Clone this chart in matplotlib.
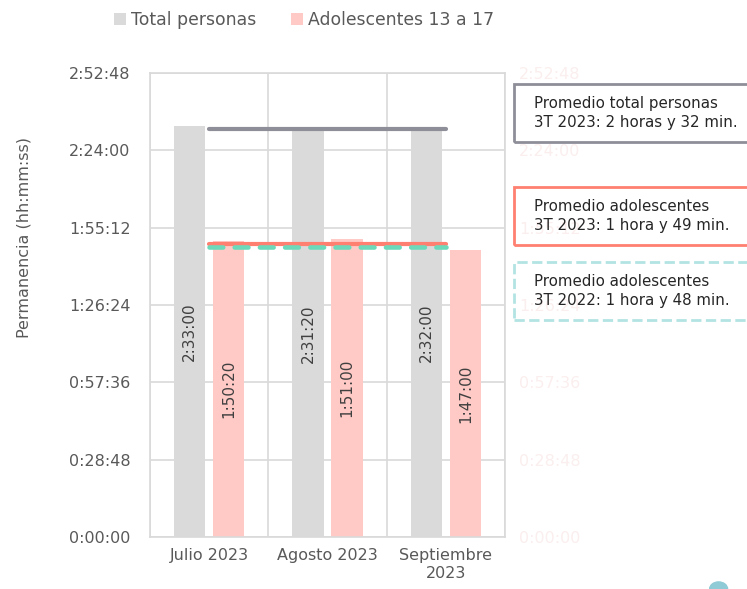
import matplotlib.pyplot as plt
from matplotlib.patches import Rectangle, Circle
import numpy as np

# data (seconds)
meses = ['Julio 2023', 'Agosto 2023', 'Septiembre\n2023']
total = [2*3600 + 33*60, 2*3600 + 31*60 + 20, 2*3600 + 32*60]
adolescentes = [1*3600 + 50*60 + 20, 1*3600 + 51*60, 1*3600 + 47*60]
prom_total_2023 = 2*3600 + 32*60
prom_adol_2023 = 1*3600 + 49*60
prom_adol_2022 = 1*3600 + 48*60
notas = ['Promedio total personas\n3T 2023: 2 horas y 32 min.',
         'Promedio adolescentes\n3T 2023: 1 hora y 49 min.',
         'Promedio adolescentes\n3T 2022: 1 hora y 48 min.']

plt.rcParams['font.family'] = ['DejaVu Sans']


def hms(s):
    s = int(round(s))
    return '%d:%02d:%02d' % (s // 3600, (s % 3600) // 60, s % 60)


gris = '#dadada'
rosa = '#ffc9c5'
txt = '#595959'

fig = plt.figure(figsize=(7.47, 5.89), dpi=100)
ax = fig.add_axes([0.2008, 0.0883, 0.4752, 0.7877])

x = np.arange(len(meses))
w = 0.265
off = 0.165
b1 = ax.bar(x - off, total, w, color=gris, zorder=2)
b2 = ax.bar(x + off, adolescentes, w, color=rosa, zorder=2)

for bars, vals in ((b1, total), (b2, adolescentes)):
    for b, v in zip(bars, vals):
        ax.text(b.get_x() + b.get_width() / 2, v / 2, hms(v), rotation=90,
                ha='center', va='center', fontsize=11, color='#404040', zorder=3)

ax.plot([x[0], x[-1]], [prom_total_2023] * 2, color='#8e8e99', lw=3,
        solid_capstyle='round', zorder=4)
ax.plot([x[0], x[-1]], [prom_adol_2023] * 2, color='#ff8070', lw=3,
        solid_capstyle='round', zorder=4)
ax.plot([x[0], x[-1]], [prom_adol_2022] * 2, color='#6dd9bb', lw=3.3,
        dashes=(3.0, 2.5), dash_capstyle='round', zorder=5)

step = 1728
ticks = np.arange(0, 7) * step
ax.set_ylim(0, 6 * step)
ax.set_xlim(-0.5, 2.5)
ax.set_yticks(ticks)
ax.set_yticklabels([hms(t) for t in ticks])
ax.set_xticks(x)
ax.set_xticklabels(meses)
ax.set_xticks([-0.5, 0.5, 1.5, 2.5], minor=True)
ax.grid(axis='y', color='#d9d9d9', lw=1.2, zorder=0)
ax.grid(axis='x', which='minor', color='#d9d9d9', lw=1.2, zorder=0)
ax.tick_params(axis='both', which='both', length=0, labelsize=11.5, colors=txt)
ax.tick_params(axis='y', pad=14)
ax.tick_params(axis='x', pad=8)
for sp in ax.spines.values():
    sp.set_color('#d9d9d9')
    sp.set_linewidth(1.2)
ax.set_ylabel('Permanencia (hh:mm:ss)', fontsize=11.5, color=txt)
ax.yaxis.set_label_coords(-0.335, 0.645)

ax2 = ax.twinx()
ax2.set_ylim(0, 6 * step)
ax2.set_yticks(ticks)
ax2.set_yticklabels([hms(t) for t in ticks])
ax2.tick_params(axis='y', length=0, labelsize=11.5, colors='#fbeeee', pad=10)
for sp in ax2.spines.values():
    sp.set_visible(False)

# legend
fig.legend(handles=[b1, b2], labels=['Total personas', 'Adolescentes 13 a 17'],
           loc='upper center', bbox_to_anchor=(0.407, 1.007), ncol=2, frameon=False,
           fontsize=12.4, labelcolor=txt, handlelength=0.7, handleheight=0.7,
           handletextpad=0.3, columnspacing=2.0)

# annotation boxes
cajas = [(0.759, '#8e8e99', '-'), (0.584, '#ff8070', '-'), (0.457, '#b3e3e3', '--')]
for (y0, col, ls), nota in zip(cajas, notas):
    fig.patches.append(Rectangle((0.688, y0), 0.4, 0.0985, transform=fig.transFigure,
                                 fill=False, edgecolor=col, lw=2, ls=ls))
    fig.text(0.715, y0 + 0.049, nota, ha='left', va='center', fontsize=10.8,
             color='#262626', linespacing=1.3)

fig.patches.append(Circle((0.962, 0.0), 0.012, transform=fig.transFigure,
                          color='#8fcbd6'))

fig.savefig('out.png', dpi=100)
